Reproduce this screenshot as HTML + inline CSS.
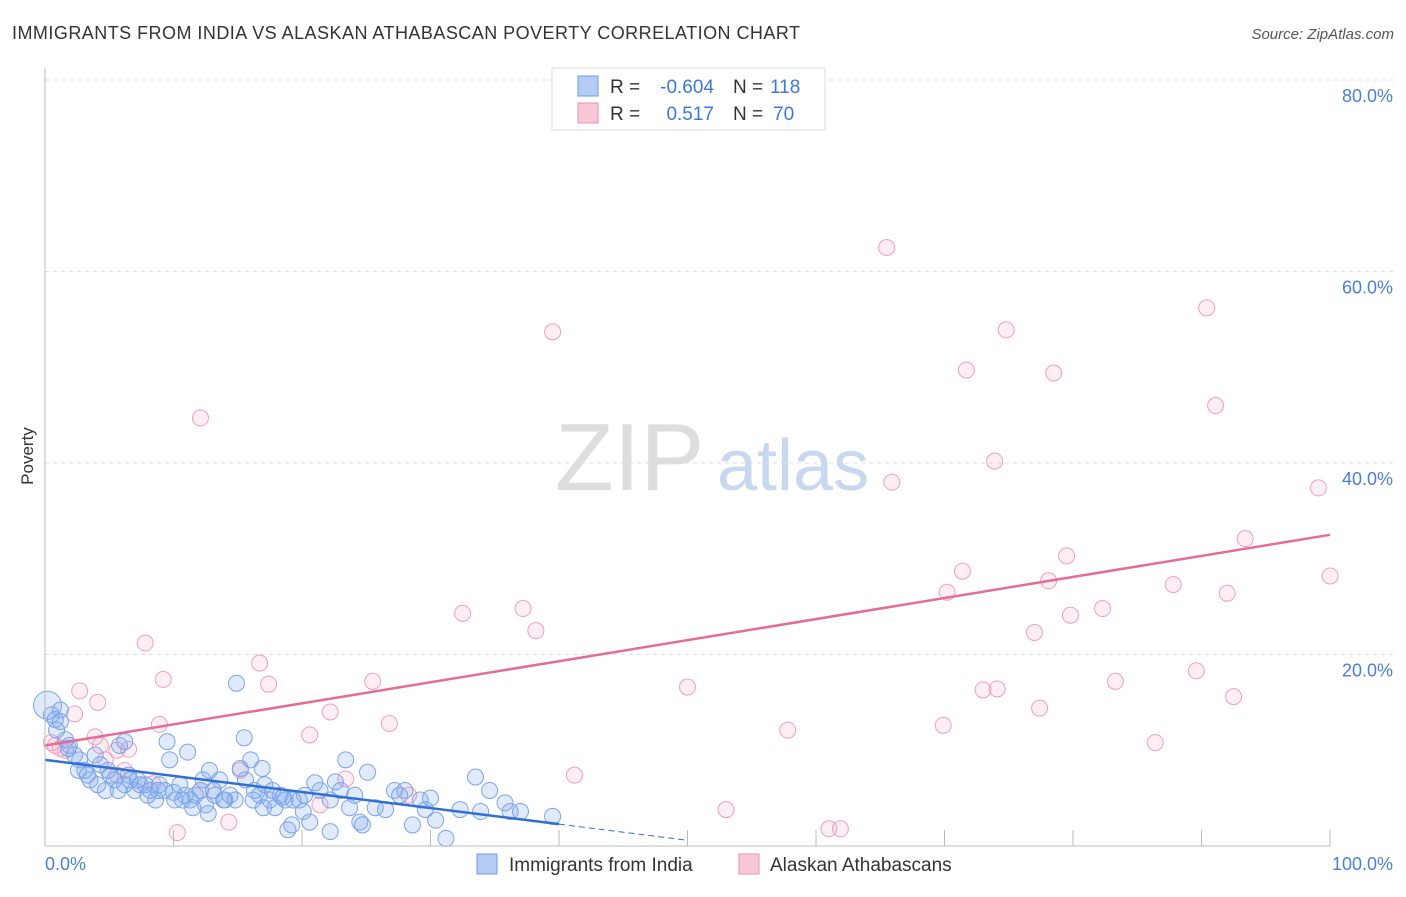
<!DOCTYPE html>
<html><head><meta charset="utf-8"><style>
body{margin:0;background:#fff;font-family:"Liberation Sans",sans-serif}
svg text{font-family:"Liberation Sans",sans-serif}
</style></head><body>
<svg id="chart" width="1406" height="892">
<text x="12" y="39" font-size="18" fill="#333" textLength="788">IMMIGRANTS FROM INDIA VS ALASKAN ATHABASCAN POVERTY CORRELATION CHART</text>
<text x="1394" y="39" font-size="15" fill="#555" font-style="italic" text-anchor="end">Source: ZipAtlas.com</text>
<text x="33" y="456" font-size="17" fill="#333" transform="rotate(-90 33 456)" text-anchor="middle">Poverty</text>
<text x="555" y="490" font-size="96" fill="#ddd" font-family="Liberation Serif">ZIP</text>
<text x="717" y="490" font-size="72" fill="#c8d8f0">atlas</text>
<g id="grid"></g><g id="pink"></g><g id="blue"></g><g id="lines"></g>
<line x1="45" y1="68" x2="45" y2="846" stroke="#bbb"/>
<line x1="45" y1="846" x2="1330" y2="846" stroke="#bbb"/>
<text x="45" y="870" font-size="18" fill="#4a7fd8">0.0%</text>
<text x="1393" y="870" font-size="18" fill="#4a7fd8" text-anchor="end">100.0%</text>
<g>
<rect x="552" y="68" width="273" height="62" fill="#fff" stroke="#ddd"/>
<rect x="578" y="76" width="20" height="20" fill="#b5cdf5" stroke="#6a9be8"/>
<rect x="578" y="103" width="20" height="20" fill="#f8c8d6" stroke="#eb92ae"/>
<text x="610" y="93" font-size="19" fill="#333">R =</text>
<text x="714" y="93" font-size="19" fill="#3b78d8" text-anchor="end">-0.604</text>
<text x="733" y="93" font-size="19" fill="#333">N =</text>
<text x="770" y="93" font-size="19" fill="#3b78d8">118</text>
<text x="610" y="120" font-size="19" fill="#333">R =</text>
<text x="714" y="120" font-size="19" fill="#3b78d8" text-anchor="end">0.517</text>
<text x="733" y="120" font-size="19" fill="#333">N =</text>
<text x="773" y="120" font-size="19" fill="#3b78d8">70</text>
</g>
<g>
<rect x="477" y="854" width="20" height="20" fill="#b5cdf5" stroke="#6a9be8"/>
<text x="509" y="871" font-size="19" fill="#333">Immigrants from India</text>
<rect x="739" y="854" width="20" height="20" fill="#f8c8d6" stroke="#eb92ae"/>
<text x="770" y="871" font-size="19" fill="#333">Alaskan Athabascans</text>
</g>
</svg>
<script>
const yTicks=[20,40,60,80];
const xTicks=[10,20,30,40,50,60,70,80,90,100];
const pinkX=[12.1,39.5,65.5,74.8,90.4,71.7,78.5,91.1,73.9,65.9,99.1,93.4,79.5,71.4,100,70.2,78.1,87.8,92.0,32.5,37.2,38.2,82.3,79.8,77.0,7.8,16.7,9.2,17.4,25.5,50.0,89.6,83.3,73.0,74.1,77.4,92.5,2.7,4.1,22.2,26.8,8.9,69.9,57.8,20.6,86.4,2.3,3.9,6.5,5.6,0.8,0.5,4.3,41.2,23.4,15.2,5.6,8.4,12.1,21.4,28.3,53.0,14.3,10.3,61.0,61.9,1.2,1.6,4.7,6.2];
const pinkY=[44.7,53.7,62.5,53.9,56.2,49.7,49.4,46.0,40.2,38.0,37.4,32.1,30.3,28.7,28.2,26.5,27.7,27.3,26.4,24.3,24.8,22.5,24.8,24.1,22.3,21.2,19.1,17.4,16.9,17.2,16.6,18.3,17.2,16.3,16.4,14.4,15.6,16.2,15.0,14.0,12.8,12.7,12.6,12.1,11.6,10.8,13.8,11.4,10.1,10.0,10.5,10.8,10.5,7.4,7.0,7.9,7.4,6.5,5.8,4.3,5.3,3.8,2.5,1.4,1.8,1.8,10.2,10.0,9.0,7.9];
const blueX=[0.2,0.5,0.8,0.9,1.2,1.6,1.9,2.3,2.7,3.1,3.5,3.9,4.3,4.7,5.1,5.4,5.8,6.2,6.6,7.0,7.4,7.8,8.2,8.6,8.9,9.3,9.5,9.7,10.1,10.5,10.9,11.1,11.3,11.7,12.1,12.5,12.7,12.8,13.2,13.6,14.0,14.4,14.8,14.9,15.2,15.5,15.6,16.0,16.3,16.7,16.9,17.1,17.5,17.9,18.3,18.7,18.9,19.2,19.8,20.2,20.6,21.0,21.4,22.2,22.6,23.0,23.4,23.7,24.1,24.5,24.7,25.1,25.7,26.5,27.2,27.6,28.0,28.6,29.2,29.6,30.0,30.4,31.2,32.3,33.5,33.9,34.6,35.8,36.2,37.0,39.5,22.2,1.2,1.8,2.6,3.3,4.1,4.9,5.7,6.5,7.2,8.0,8.8,10.0,10.7,11.5,12.3,13.1,13.9,16.2,17.0,17.7,18.5,19.3,20.1,6.2];
const blueY=[14.7,13.7,13.2,12.1,14.2,11.1,10.5,9.5,9.0,7.9,6.9,9.5,8.5,5.8,7.4,6.9,10.5,6.4,6.9,5.8,6.4,6.4,5.8,4.8,6.4,5.8,10.9,9.0,4.8,6.4,5.3,9.8,4.8,5.3,5.8,4.3,3.4,7.9,5.3,6.9,4.8,5.3,4.8,17.0,8.1,11.3,6.9,9.0,5.8,5.3,8.1,6.4,4.8,4.0,5.3,4.8,1.7,2.2,4.8,5.3,2.5,6.6,5.8,4.8,6.7,5.8,9.0,4.0,5.3,2.5,2.2,7.7,4.0,3.8,5.8,5.3,5.8,2.2,4.8,3.8,5.0,2.7,0.8,3.8,7.2,3.6,5.8,4.5,3.6,3.6,3.1,1.5,13.0,10.2,7.9,7.4,6.4,7.9,5.8,7.4,6.9,5.3,5.8,5.6,4.8,4.0,6.9,5.8,4.8,4.8,4.0,5.8,5.1,4.8,3.6,10.9];
const blueTrend=[9.0,-0.168];
const pinkTrend=[10.5,0.22];
const NS='http://www.w3.org/2000/svg';
const sx=v=>45+v*12.85, sy=v=>846-v*9.575;
function mk(t,a,p){const e=document.createElementNS(NS,t);for(const k in a)e.setAttribute(k,a[k]);p.appendChild(e);return e;}
const g=document.getElementById('grid');
yTicks.forEach(t=>{
 const l=mk('line',{x1:45,x2:1395,y1:sy(t),y2:sy(t),stroke:'#ddd','stroke-dasharray':'4,4'},g);
 
 
 const tx=mk('text',{x:1393,y:sy(t)+22,'font-size':18,fill:'#4a7fd8','text-anchor':'end'},g);
 tx.textContent=t.toFixed(1)+'%';
 
 
});
xTicks.forEach(t=>{
 const l=mk('line',{x1:sx(t),x2:sx(t),y1:830,y2:846,stroke:'#bbb'},g);
 
 
});
const pg=document.getElementById('pink');
pinkX.forEach((x,i)=>{
 const c=mk('circle',{cx:sx(x),cy:sy(pinkY[i]),r:8,fill:'rgba(244,170,195,0.2)',stroke:'#ef9fb9','stroke-width':1},pg);
 
 
});
const bg=document.getElementById('blue');
blueX.forEach((x,i)=>{
 const c=mk('circle',{cx:sx(x),cy:sy(blueY[i]),r:i==0?14:8,fill:'rgba(130,170,240,0.25)',stroke:'#7aa3ea','stroke-width':1},bg);
 
 
});
const lg=document.getElementById('lines');
let l1=mk('line',{x1:sx(0),y1:sy(blueTrend[0]),x2:sx(40),y2:sy(blueTrend[0]+blueTrend[1]*40),stroke:'#2f6fd6','stroke-width':2.5},lg);


let l2=mk('line',{x1:sx(40),y1:sy(blueTrend[0]+blueTrend[1]*40),x2:sx(50),y2:sy(blueTrend[0]+blueTrend[1]*50),stroke:'#2f6fd6','stroke-width':1,'stroke-dasharray':'6,4'},lg);


let l3=mk('line',{x1:sx(0),y1:sy(pinkTrend[0]),x2:sx(100),y2:sy(pinkTrend[0]+pinkTrend[1]*100),stroke:'#e56b98','stroke-width':2.5},lg);


</script>
</body></html>
